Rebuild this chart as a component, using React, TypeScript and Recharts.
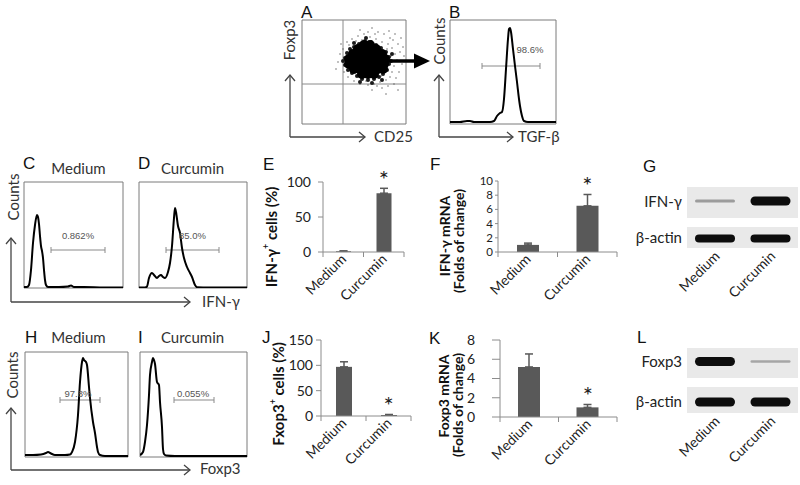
import React from 'react';
import {
  LineChart, Line, XAxis, YAxis, ReferenceLine, ReferenceArea, ReferenceDot,
  ScatterChart, Scatter, BarChart, Bar, ErrorBar, Cell,
} from 'recharts';

const SANS = "Lato, 'Open Sans', 'DejaVu Sans', sans-serif";
const ARIAL = "'Liberation Sans', Arial, sans-serif";
const BAR = '#595959';
const AXIS = '#8c8c8c';
const FRAME = '#7a7a7a';

type Pt = [number, number];

// ---------------- data ----------------
const groups = ['Medium', 'Curcumin'];
const ifnCellsMean = [1, 84];
const ifnCellsErr = [0.6, 7];
const ifnMrnaMean = [1.0, 6.5];
const ifnMrnaErr = [0.25, 1.6];
const foxCellsMean = [97, 2];
const foxCellsErr = [10, 1];
const foxMrnaMean = [5.2, 1.0];
const foxMrnaErr = [1.35, 0.3];
const significant = [false, true];

const ticksIfnCells = [0, 50, 100];
const ticksIfnMrna = [0, 2, 4, 6, 8, 10];
const ticksFoxCells = [0, 50, 100, 150];
const ticksFoxMrna = [0, 2, 4, 6, 8];

// western blot band intensities (Medium, Curcumin)
const blotIfn = [0.35, 1];
const blotActinG = [1, 1];
const blotFoxp3 = [1, 0.3];
const blotActinL = [1, 1];

// flow histograms: [channel, counts]
const histTGFb: Pt[] = [[0,2],[10,2],[17,3],[20,3],[24,2],[40,2],[44,3],[47,8],[50,11],[52,12],[54,25],[56,55],[58,85],[59,95],[60,96],[61,92],[63,75],[65,58],[67,42],[69,25],[70,18],[72,8],[74,3],[78,2],[106,2]];
const histIfnMedium: Pt[] = [[0,1],[3,1],[5,3],[7,18],[9,45],[11,63],[13,73],[14,71],[15,64],[16,52],[17,42],[18,37],[19,30],[20,18],[21,8],[22,3],[24,1],[35,1],[44,1.5],[47,2.5],[50,1],[60,1],[80,0.5],[99,0.5]];
const histIfnCurcumin: Pt[] = [[0,0.5],[6,0.5],[8,1.5],[10,10],[13,15],[15,13],[18,10],[20,12],[22,13],[24,11],[26,10],[29,16],[31,25],[33,42],[35,70],[36,80],[37,76],[39,62],[41,55],[43,40],[45,30],[48,21],[51,15],[53,11],[56,3],[58,0.8],[70,0.5],[108,0.5]];
const histFoxMedium: Pt[] = [[0,2],[8,2],[16,2.5],[21,4],[23,5],[26,3.5],[30,2],[40,2],[45,2.5],[47,5],[50,15],[53,42],[55,75],[57,95],[58,99],[59,97],[61,95],[62,92],[64,70],[65,59],[68,35],[70,24],[72,10],[73,5],[75,2],[80,1],[103,1]];
const histFoxCurcumin: Pt[] = [[0,2],[3,5],[5,15],[7,32],[9,62],[10,82],[12,95],[13,99],[14,97],[15,93],[17,75],[19,72],[20,55],[22,30],[23,8],[24,3],[26,1.5],[35,1],[107,1]];

// gates and their labels
const gateTGFb = { x1: 32, x2: 90, y: 58, text: '98.6%', tx: 80, ty: 74 };
const gateIfnMedium = { x1: 27, x2: 81, y: 38, text: '0.862%', tx: 54, ty: 52 };
const gateIfnCurcumin = { x1: 27, x2: 80, y: 38, text: '85.0%', tx: 53.5, ty: 52 };
const gateFoxMedium = { x1: 35, x2: 75, y: 57, text: '97.8%', tx: 53, ty: 63 };
const gateFoxCurcumin = { x1: 34, x2: 74, y: 57, text: '0.055%', tx: 53, ty: 63 };

// CD25 vs Foxp3 dot plot
const dotsCore: Pt[] = [
  [60,50],[66,50],[72,50],
  [52,55],[58,55],[64,55],[70,55],[76,55],[81,55],
  [47,60],[53,60],[59,60],[65,60],[71,60],[77,60],[82,60],
  [47,65],[53,65],[59,65],[65,65],[71,65],[77,65],[83,65],
  [51,70],[57,70],[63,70],[69,70],[75,70],[80,70],
  [56,75],[62,75],[68,75],[74,75],
  [62,79],[68,79],
];
const dotsEdge: Pt[] = [[43,59],[43,66],[45,71],[48,75],[52,77],[57,80],[63,83],[69,82],[74,79],[79,76],[84,72],[87,67],[87,60],[85,54],[81,50],[77,47],[72,45],[66,44],[60,45],[55,48],[50,51],[46,54],[89,63],[58,42],[70,41],[64,86],[52,81],[41,63],[90,70],[80,44]];
const dotsSparse: Pt[] = [[38,70],[36,62],[41,75],[45,82],[50,85],[56,88],[62,90],[68,87],[74,85],[80,82],[86,80],[90,76],[93,70],[95,64],[92,58],[90,52],[88,47],[84,44],[78,42],[72,40],[66,39],[58,40],[52,43],[46,47],[42,52],[98,72],[96,80],[88,86],[82,90],[76,92],[100,60],[97,52],[94,46],[86,38],[80,36],[70,34],[64,43],[102,68],[91,84],[60,84],[54,83],[47,79],[85,75],[89,68],[79,48],[75,38],[99,86],[92,40],[84,30],[96,34],[70,96],[58,94],[39,80],[34,55],[93,90],[87,93],[101,77],[73,90],[66,92]];
const quadX = 41;
const quadY = 40;

const MINOR = [10, 20, 30, 40, 50, 60, 70, 80, 90, 100];

// ---------------- components ----------------
function Histogram({ left, top, w, h, pts, gate }: any) {
  const data = pts.map(([x, y]: Pt) => ({ x, y }));
  return (
    <div style={{ position: 'absolute', left: left - 1, top: top - 1 }}>
      <LineChart width={w + 2} height={h + 2} data={data} margin={{ top: 1, right: 1, bottom: 1, left: 1 }}>
        <XAxis dataKey="x" type="number" domain={[0, w]} ticks={MINOR.filter((t) => t < w)} tick={false} tickSize={3} mirror axisLine={false} height={0} tickLine={{ stroke: '#aaa' }} allowDataOverflow />
        <YAxis type="number" domain={[0, h]} ticks={MINOR.filter((t) => t < h)} tick={false} tickSize={3} mirror axisLine={false} width={0} tickLine={{ stroke: '#aaa' }} allowDataOverflow />
        <ReferenceArea x1={0} x2={w} y1={0} y2={h} fill="none" stroke={FRAME} strokeWidth={1} ifOverflow="visible" />
        <ReferenceLine segment={[{ x: gate.x1, y: gate.y }, { x: gate.x2, y: gate.y }]} stroke="#8a8a8a" />
        <ReferenceLine segment={[{ x: gate.x1, y: gate.y - 3 }, { x: gate.x1, y: gate.y + 3 }]} stroke="#8a8a8a" />
        <ReferenceLine segment={[{ x: gate.x2, y: gate.y - 3 }, { x: gate.x2, y: gate.y + 3 }]} stroke="#8a8a8a" />
        <Line type="monotone" dataKey="y" stroke="#000" strokeWidth={2} dot={false} isAnimationActive={false} />
        <ReferenceDot x={gate.tx} y={gate.ty} r={0.1} fill="none" stroke="none" label={{ value: gate.text, position: 'center', fontSize: 9.5, fill: '#555', fontFamily: ARIAL }} />
      </LineChart>
    </div>
  );
}

const dotShape = (r: number, fill: string) => (p: any) => <circle cx={p.cx} cy={p.cy} r={r} fill={fill} />;

function DotPlot({ left, top, w, h }: any) {
  const toObj = (a: Pt[]) => a.map(([x, y]) => ({ x, y }));
  return (
    <div style={{ position: 'absolute', left: left - 1, top: top - 1 }}>
      <ScatterChart width={w + 2} height={h + 2} margin={{ top: 1, right: 1, bottom: 1, left: 1 }}>
        <XAxis dataKey="x" type="number" domain={[0, w]} ticks={MINOR.filter((t) => t < w)} tick={false} tickSize={3} mirror axisLine={false} height={0} tickLine={{ stroke: '#aaa' }} allowDataOverflow />
        <YAxis dataKey="y" type="number" domain={[0, h]} ticks={MINOR.filter((t) => t < h)} tick={false} tickSize={3} mirror axisLine={false} width={0} tickLine={{ stroke: '#aaa' }} allowDataOverflow />
        <ReferenceArea x1={0} x2={w} y1={0} y2={h} fill="none" stroke={FRAME} strokeWidth={1} ifOverflow="visible" />
        <ReferenceLine x={quadX} stroke="#8a8a8a" />
        <ReferenceLine y={quadY} stroke="#8a8a8a" />
        <Scatter data={toObj(dotsSparse)} shape={dotShape(0.7, '#555')} isAnimationActive={false} />
        <Scatter data={toObj(dotsEdge)} shape={dotShape(2, '#1a1a1a')} isAnimationActive={false} />
        <Scatter data={toObj(dotsCore)} shape={dotShape(5, '#000')} isAnimationActive={false} />
      </ScatterChart>
    </div>
  );
}

function CatTick(props: any) {
  const { x, y, payload, boundaries, last, dx = 4, dy = 8, fontSize = 14 } = props;
  const off = payload && payload.offset ? payload.offset : 0;
  const tx = x + dx;
  const ty = y + dy;
  return (
    <g>
      {boundaries && <line x1={x - off} x2={x - off} y1={y} y2={y + 5} stroke={AXIS} />}
      {boundaries && payload.value === last && <line x1={x + off} x2={x + off} y1={y} y2={y + 5} stroke={AXIS} />}
      <text x={tx} y={ty} transform={`rotate(-45 ${tx} ${ty})`} textAnchor="end" fontSize={fontSize} fontFamily={SANS} fill="#222">
        {payload.value}
      </text>
    </g>
  );
}

function BarPanel({ left, top, width, height, mt, mr, yWidth, domain, ticks, mean, err, barSize, tickSize, tickMargin, fontSize = 14 }: any) {
  const data = groups.map((name, i) => ({ name, mean: mean[i], err: [0, err[i]], top: mean[i] + err[i], sig: significant[i] }));
  return (
    <div style={{ position: 'absolute', left, top }}>
      <BarChart width={width} height={height} data={data} margin={{ top: mt, right: mr, left: 0, bottom: 0 }}>
        <XAxis dataKey="name" interval={0} tickLine={false} axisLine={{ stroke: AXIS }} tickSize={0} tickMargin={0} height={60}
          tick={(p: any) => <CatTick {...p} boundaries last={groups[groups.length - 1]} />} />
        <YAxis type="number" domain={domain} ticks={ticks} interval={0} width={yWidth} axisLine={{ stroke: AXIS }} tickLine={{ stroke: AXIS }}
          tickSize={tickSize} tickMargin={tickMargin} tick={{ fontSize, fill: '#222', fontFamily: SANS }} allowDataOverflow />
        <Bar dataKey="mean" fill={BAR} barSize={barSize} isAnimationActive={false}>
          <ErrorBar dataKey="err" width={4} stroke={BAR} strokeWidth={1.5} direction="y" isAnimationActive={false} />
        </Bar>
        {data.filter((d) => d.sig).map((d) => (
          <ReferenceDot key={d.name} x={d.name} y={d.top} r={0.1} fill="none" stroke="none"
            label={{ value: '*', position: 'top', offset: 0, fontSize: 24, fill: '#222', fontFamily: SANS }} />
        ))}
      </BarChart>
    </div>
  );
}

function BlotRow({ left, top, w, h, intensity, center, thick, showLabels }: any) {
  const data = groups.map((lane, i) => ({ lane, base: center - thick[i] / 2, band: thick[i], op: intensity[i] }));
  const extra = showLabels ? 60 : 0;
  const pad = 40;
  return (
    <div style={{ position: 'absolute', left: left - pad, top }}>
      <div style={{ position: 'absolute', left: pad, top: 0, width: w, height: h, background: '#e9e9e9' }} />
      <BarChart width={w + pad} height={h + extra} data={data} margin={{ top: 0, right: 0, left: pad, bottom: 0 }}>
        <XAxis dataKey="lane" hide={!showLabels} height={extra} axisLine={false} tickLine={false} tickSize={0} tickMargin={0} interval={0}
          tick={(p: any) => <CatTick {...p} dx={6} dy={9} fontSize={14} />} />
        <YAxis hide type="number" domain={[0, h]} allowDataOverflow />
        <Bar dataKey="base" stackId="s" fill="none" barSize={40} isAnimationActive={false} />
        <Bar dataKey="band" stackId="s" barSize={40} radius={5} isAnimationActive={false}>
          {data.map((d, i) => <Cell key={i} fill="#0d0d0d" fillOpacity={d.op} />)}
        </Bar>
      </BarChart>
    </div>
  );
}

function Overlay() {
  const arrowStroke = '#444';
  const vArrow = (x: number, y1: number, y2: number) => (
    <g stroke={arrowStroke} strokeWidth={1.3} fill="none">
      <line x1={x} y1={y1} x2={x} y2={y2} />
      <polyline points={`${x - 5},${y2 + 6} ${x},${y2} ${x + 5},${y2 + 6}`} />
    </g>
  );
  const hArrow = (y: number, x1: number, x2: number) => (
    <g stroke={arrowStroke} strokeWidth={1.3} fill="none">
      <line x1={x1} y1={y} x2={x2} y2={y} />
      <polyline points={`${x2 - 6},${y - 5} ${x2},${y} ${x2 - 6},${y + 5}`} />
    </g>
  );
  const letter = (t: string, x: number, y: number) => (
    <text x={x} y={y} fontSize={17} fontFamily={ARIAL} fill="#111">{t}</text>
  );
  const title = (t: string, cx: number, y: number) => (
    <text x={cx} y={y} fontSize={15} fontFamily={SANS} fill="#333" textAnchor="middle">{t}</text>
  );
  const vText = (cx: number, cy: number, content: any, bold = false, size = 15) => (
    <text x={cx} y={cy} transform={`rotate(-90 ${cx} ${cy})`} textAnchor="middle" dominantBaseline="central"
      fontSize={size} fontFamily={SANS} fontWeight={bold ? 700 : 400} fill={bold ? '#111' : '#333'}>{content}</text>
  );
  return (
    <svg width={800} height={485} style={{ position: 'absolute', left: 0, top: 0, pointerEvents: 'none' }}>
      {/* A / B */}
      {letter('A', 301, 18)}
      {letter('B', 449, 18)}
      {vText(289, 40, 'Foxp3')}
      {vArrow(290, 137, 75)}
      {hArrow(137, 290, 365)}
      <text x={374} y={142} fontSize={15} fontFamily={SANS} fill="#333">CD25</text>
      {vText(439, 41, 'Counts')}
      {vArrow(439, 137, 75)}
      {hArrow(137, 439, 513)}
      <text x={518} y={142} fontSize={15} fontFamily={SANS} fill="#333">TGF-β</text>
      <g>
        <line x1={384} y1={61} x2={418} y2={61} stroke="#000" strokeWidth={3.5} />
        <polygon points="414,53.5 430,61 414,68.5" fill="#000" />
      </g>

      {/* C / D */}
      {letter('C', 23, 169)}
      {title('Medium', 78.5, 174)}
      {letter('D', 138, 169)}
      {title('Curcumin', 192.5, 174)}
      {vText(13, 197, 'Counts')}
      {vArrow(11, 302, 238)}
      {hArrow(302, 11, 190)}
      <text x={202} y={307} fontSize={15} fontFamily={SANS} fill="#333">IFN-γ</text>

      {/* E / F / G */}
      {letter('E', 263, 170)}
      {vText(271, 237, <>IFN-γ<tspan baselineShift="super" fontSize={9}>+</tspan> cells (%)</>, true, 15)}
      {letter('F', 430, 170)}
      {vText(444, 236, 'IFN-γ mRNA', true, 14)}
      {vText(458, 241, '(Folds of change)', true, 14)}
      {letter('G', 643, 172)}
      <text x={682} y={207} fontSize={15} fontFamily={SANS} fill="#222" textAnchor="end">IFN-γ</text>
      <text x={682} y={243} fontSize={15} fontFamily={SANS} fill="#222" textAnchor="end">β-actin</text>

      {/* H / I */}
      {letter('H', 25, 343)}
      {title('Medium', 78.5, 343)}
      {letter('I', 138, 343)}
      {title('Curcumin', 192.5, 343)}
      {vText(12, 375, 'Counts')}
      {vArrow(11, 470, 408)}
      {hArrow(470, 11, 190)}
      <text x={200} y={474} fontSize={15} fontFamily={SANS} fill="#333">Foxp3</text>

      {/* J / K / L */}
      {letter('J', 262, 343)}
      {vText(278, 394, <>Fxop3<tspan baselineShift="super" fontSize={9}>+</tspan> cells (%)</>, true, 15)}
      {letter('K', 429, 344)}
      {vText(443, 396, 'Foxp3 mRNA', true, 14)}
      {vText(457, 405, '(Folds of change)', true, 14)}
      {letter('L', 637, 343)}
      <text x={682} y={367} fontSize={15} fontFamily={SANS} fill="#222" textAnchor="end">Foxp3</text>
      <text x={682} y={407} fontSize={15} fontFamily={SANS} fill="#222" textAnchor="end">β-actin</text>
    </svg>
  );
}

export default function App() {
  return (
    <div style={{ position: 'absolute', left: 0, top: 0, width: 800, height: 485, background: '#fff', overflow: 'hidden' }}>
      <DotPlot left={302} top={20} w={104} h={104} />
      <Histogram left={450} top={20} w={106} h={104} pts={histTGFb} gate={gateTGFb} />
      <Histogram left={24} top={182} w={99} h={106} pts={histIfnMedium} gate={gateIfnMedium} />
      <Histogram left={139} top={182} w={108} h={106} pts={histIfnCurcumin} gate={gateIfnCurcumin} />
      <Histogram left={25} top={352} w={103} h={105} pts={histFoxMedium} gate={gateFoxMedium} />
      <Histogram left={140} top={352} w={107} h={105} pts={histFoxCurcumin} gate={gateFoxCurcumin} />

      <BarPanel left={270} top={160} width={140} height={152} mt={22} mr={6} yWidth={53} domain={[0, 100]} ticks={ticksIfnCells}
        mean={ifnCellsMean} err={ifnCellsErr} barSize={15} tickSize={5} tickMargin={7} />
      <BarPanel left={460} top={160} width={162} height={152} mt={21} mr={5} yWidth={38} domain={[0, 10]} ticks={ticksIfnMrna}
        mean={ifnMrnaMean} err={ifnMrnaErr} barSize={22} tickSize={3} tickMargin={2} fontSize={11.5} />
      <BarPanel left={270} top={325} width={146} height={151} mt={15} mr={5} yWidth={51} domain={[0, 150]} ticks={ticksFoxCells}
        mean={foxCellsMean} err={foxCellsErr} barSize={16} tickSize={5} tickMargin={3} />
      <BarPanel left={460} top={325} width={162} height={152} mt={15} mr={5} yWidth={40} domain={[0, 8]} ticks={ticksFoxMrna}
        mean={foxMrnaMean} err={foxMrnaErr} barSize={22} tickSize={8} tickMargin={17} />

      <BlotRow left={687} top={187} w={111} h={31} intensity={blotIfn} center={17} thick={[3, 9]} />
      <BlotRow left={687} top={227} w={111} h={21} intensity={blotActinG} center={9.5} thick={[8, 8]} showLabels />
      <BlotRow left={687} top={348} w={111} h={30} intensity={blotFoxp3} center={16.5} thick={[9, 2.5]} />
      <BlotRow left={687} top={387} w={111} h={26} intensity={blotActinL} center={11} thick={[9, 9]} showLabels />

      <Overlay />
    </div>
  );
}
